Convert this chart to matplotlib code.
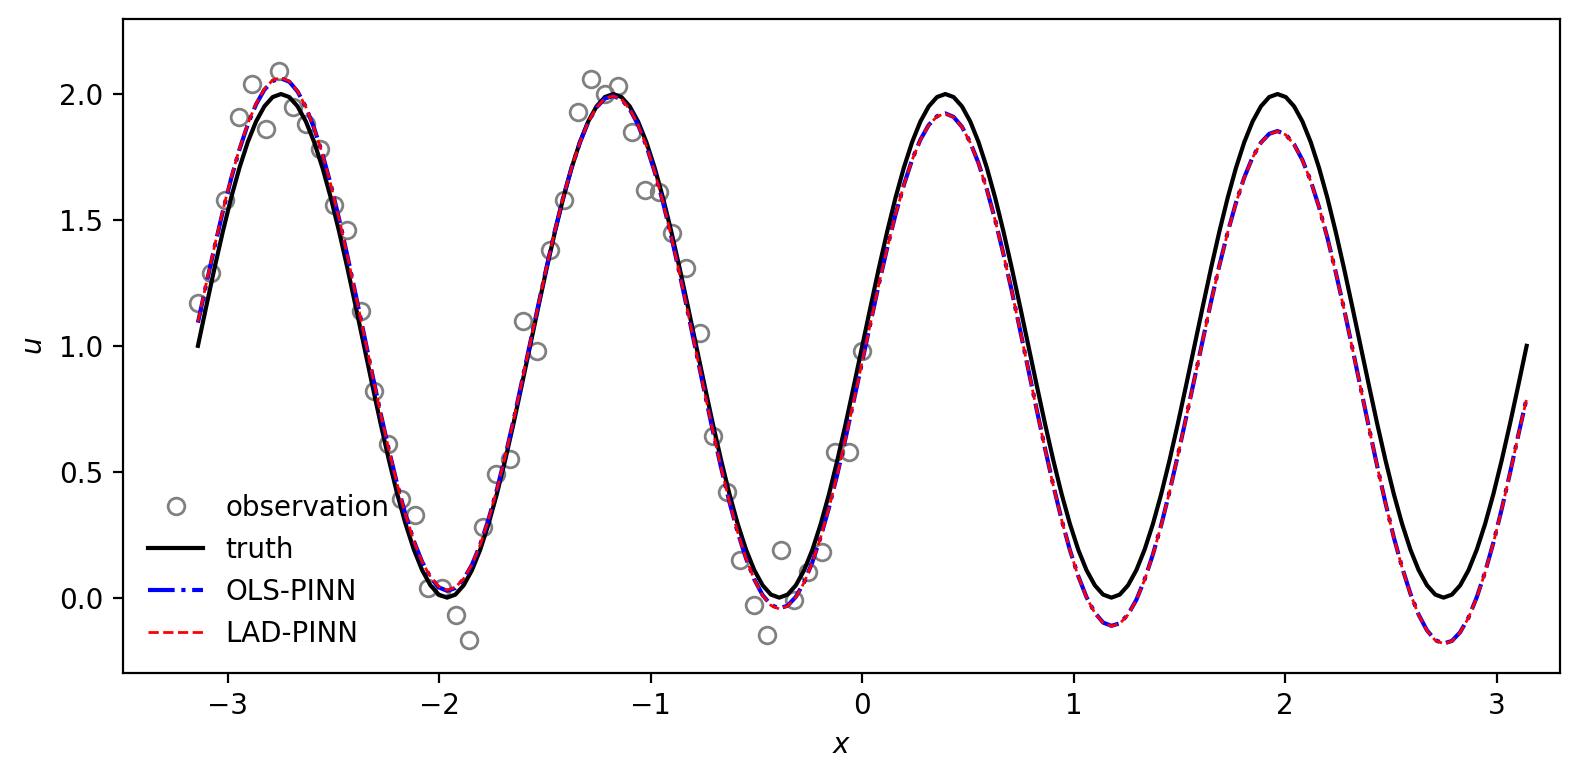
import numpy as np
import matplotlib.pyplot as plt

# noisy observations on [-pi, 0]
obs_x = np.linspace(-np.pi, 0, 50)
obs_u = [1.17, 1.29, 1.58, 1.91, 2.04, 1.86, 2.09, 1.95, 1.88, 1.78,
         1.56, 1.46, 1.14, 0.82, 0.61, 0.39, 0.33, 0.04, 0.04, -0.07,
         -0.17, 0.28, 0.49, 0.55, 1.10, 0.98, 1.38, 1.58, 1.93, 2.06,
         2.00, 2.03, 1.85, 1.62, 1.61, 1.45, 1.31, 1.05, 0.64, 0.42,
         0.15, -0.03, -0.15, 0.19, -0.01, 0.10, 0.18, 0.58, 0.58, 0.98]

# curves sampled on [-pi, pi], 161 points
x = np.linspace(-np.pi, np.pi, 161)
truth = [1.000, 1.156, 1.309, 1.454, 1.588, 1.707, 1.809, 1.891, 1.951, 1.988,
         2.000, 1.988, 1.951, 1.891, 1.809, 1.707, 1.588, 1.454, 1.309, 1.156,
         1.000, 0.844, 0.691, 0.546, 0.412, 0.293, 0.191, 0.109, 0.049, 0.012,
         0.000, 0.012, 0.049, 0.109, 0.191, 0.293, 0.412, 0.546, 0.691, 0.844,
         1.000, 1.156, 1.309, 1.454, 1.588, 1.707, 1.809, 1.891, 1.951, 1.988,
         2.000, 1.988, 1.951, 1.891, 1.809, 1.707, 1.588, 1.454, 1.309, 1.156,
         1.000, 0.844, 0.691, 0.546, 0.412, 0.293, 0.191, 0.109, 0.049, 0.012,
         0.000, 0.012, 0.049, 0.109, 0.191, 0.293, 0.412, 0.546, 0.691, 0.844,
         1.000, 1.156, 1.309, 1.454, 1.588, 1.707, 1.809, 1.891, 1.951, 1.988,
         2.000, 1.988, 1.951, 1.891, 1.809, 1.707, 1.588, 1.454, 1.309, 1.156,
         1.000, 0.844, 0.691, 0.546, 0.412, 0.293, 0.191, 0.109, 0.049, 0.012,
         0.000, 0.012, 0.049, 0.109, 0.191, 0.293, 0.412, 0.546, 0.691, 0.844,
         1.000, 1.156, 1.309, 1.454, 1.588, 1.707, 1.809, 1.891, 1.951, 1.988,
         2.000, 1.988, 1.951, 1.891, 1.809, 1.707, 1.588, 1.454, 1.309, 1.156,
         1.000, 0.844, 0.691, 0.546, 0.412, 0.293, 0.191, 0.109, 0.049, 0.012,
         0.000, 0.012, 0.049, 0.109, 0.191, 0.293, 0.412, 0.546, 0.691, 0.844,
         1.000]
ols = [1.092, 1.244, 1.392, 1.534, 1.664, 1.780, 1.879, 1.959, 2.017, 2.052,
       2.062, 2.049, 2.010, 1.948, 1.864, 1.761, 1.640, 1.504, 1.357, 1.203,
       1.045, 0.887, 0.732, 0.586, 0.450, 0.329, 0.225, 0.142, 0.080, 0.041,
       0.027, 0.038, 0.073, 0.131, 0.211, 0.312, 0.429, 0.561, 0.704, 0.856,
       1.010, 1.164, 1.315, 1.459, 1.591, 1.708, 1.808, 1.889, 1.947, 1.982,
       1.992, 1.979, 1.940, 1.878, 1.794, 1.691, 1.570, 1.434, 1.287, 1.133,
       0.975, 0.817, 0.663, 0.516, 0.380, 0.259, 0.156, 0.072, 0.010, -0.029,
       -0.043, -0.032, 0.003, 0.061, 0.142, 0.242, 0.359, 0.491, 0.635, 0.786,
       0.940, 1.094, 1.246, 1.389, 1.521, 1.638, 1.739, 1.819, 1.877, 1.912,
       1.923, 1.909, 1.870, 1.808, 1.725, 1.621, 1.500, 1.364, 1.218, 1.063,
       0.905, 0.747, 0.593, 0.446, 0.310, 0.189, 0.086, 0.002, -0.060, -0.099,
       -0.112, -0.102, -0.067, -0.009, 0.072, 0.172, 0.289, 0.421, 0.565, 0.716,
       0.870, 1.024, 1.176, 1.319, 1.451, 1.568, 1.669, 1.749, 1.807, 1.842,
       1.853, 1.839, 1.800, 1.738, 1.655, 1.551, 1.430, 1.294, 1.148, 0.993,
       0.835, 0.677, 0.523, 0.376, 0.240, 0.120, 0.016, -0.068, -0.130, -0.169,
       -0.182, -0.172, -0.137, -0.079, 0.002, 0.102, 0.219, 0.352, 0.495, 0.646,
       0.792]
lad = [1.096, 1.248, 1.396, 1.538, 1.668, 1.783, 1.882, 1.962, 2.020, 2.055,
       2.065, 2.051, 2.011, 1.948, 1.864, 1.761, 1.640, 1.504, 1.357, 1.203,
       1.045, 0.887, 0.732, 0.586, 0.450, 0.329, 0.225, 0.142, 0.082, 0.044,
       0.030, 0.041, 0.075, 0.132, 0.211, 0.312, 0.429, 0.561, 0.704, 0.856,
       1.010, 1.164, 1.315, 1.459, 1.591, 1.708, 1.808, 1.889, 1.947, 1.982,
       1.992, 1.979, 1.940, 1.878, 1.794, 1.691, 1.570, 1.434, 1.287, 1.133,
       0.975, 0.817, 0.663, 0.516, 0.380, 0.259, 0.156, 0.071, 0.008, -0.031,
       -0.045, -0.034, 0.001, 0.060, 0.141, 0.241, 0.358, 0.490, 0.634, 0.785,
       0.939, 1.093, 1.245, 1.388, 1.520, 1.637, 1.738, 1.818, 1.876, 1.911,
       1.922, 1.908, 1.869, 1.807, 1.724, 1.620, 1.499, 1.363, 1.217, 1.062,
       0.904, 0.746, 0.592, 0.445, 0.309, 0.188, 0.085, 0.001, -0.061, -0.100,
       -0.113, -0.103, -0.068, -0.010, 0.071, 0.171, 0.288, 0.420, 0.564, 0.715,
       0.869, 1.023, 1.175, 1.318, 1.450, 1.567, 1.668, 1.748, 1.806, 1.841,
       1.852, 1.838, 1.799, 1.737, 1.654, 1.550, 1.429, 1.293, 1.147, 0.992,
       0.834, 0.676, 0.522, 0.375, 0.239, 0.119, 0.015, -0.069, -0.131, -0.170,
       -0.183, -0.173, -0.138, -0.080, 0.001, 0.101, 0.218, 0.351, 0.494, 0.645,
       0.790]

fig = plt.figure(figsize=(7.9, 3.9), dpi=200)
ax = fig.add_axes([0.0777, 0.1376, 0.9096, 0.8374])

ax.plot(obs_x, obs_u, 'o', mfc='none', mec='gray', ms=6, mew=1.0, label='observation')
ax.plot(x, truth, 'k-', lw=1.5, label='truth')
ax.plot(x, ols, 'b-.', lw=1.5, label='OLS-PINN')
ax.plot(x, lad, 'r--', lw=1.0, label='LAD-PINN')

ax.set_xlim(-3.497, 3.299)
ax.set_ylim(-0.298, 2.296)
ax.set_xlabel('$x$')
ax.set_ylabel('$u$')
ax.legend(loc='lower left', frameon=False)

fig.savefig('out.png', dpi=200)
